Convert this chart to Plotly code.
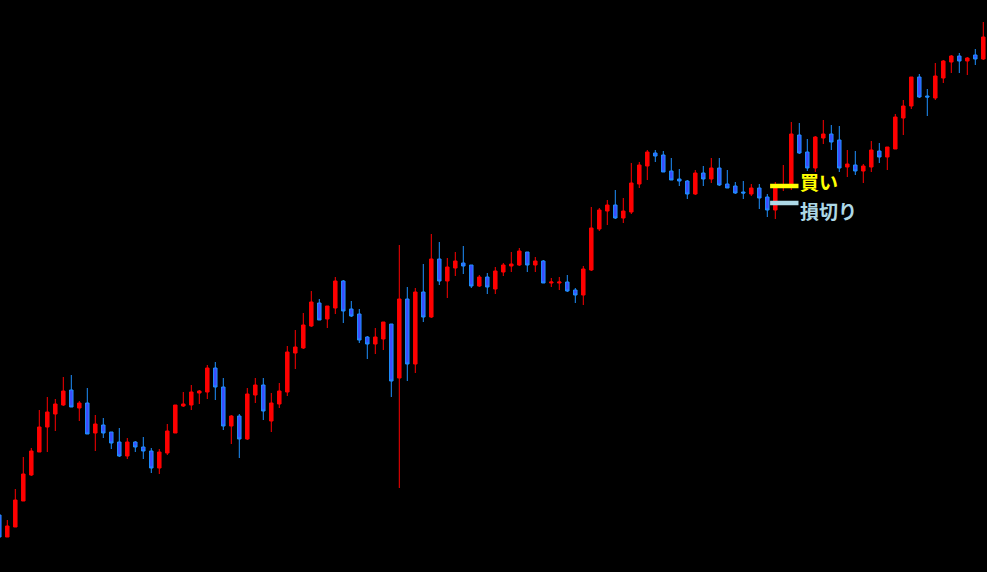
import plotly.graph_objects as go

# OHLC price data (arbitrary price units), one entry per bar
opens = [57, 35, 45, 71, 97, 120, 145, 158, 167, 182, 164, 169, 139, 147, 140, 130, 116, 130, 125, 121,
         104, 119, 139, 166, 167, 179, 180, 204, 185, 146, 156, 133, 177, 187, 151, 168, 180, 219, 224, 246,
         269, 253, 264, 291, 263, 258, 235, 228, 233, 248, 194, 273, 208, 280, 255, 313, 291, 304, 309, 307,
         286, 295, 283, 300, 306, 307, 320, 307, 311, 289, 289, 290, 282, 277, 302, 343, 361, 367, 354, 360,
         388, 406, 419, 417, 401, 393, 391, 378, 399, 393, 404, 388, 386, 380, 378, 384, 375, 362, 385, 387,
         437, 420, 404, 434, 438, 432, 405, 407, 401, 405, 421, 415, 423, 454, 466, 495, 476, 474, 494, 510,
         516, 511, 517, 513]
highs = [57, 52, 83, 115, 124, 162, 175, 173, 195, 197, 171, 184, 157, 154, 140, 144, 134, 131, 135, 124,
         123, 148, 167, 180, 187, 182, 207, 210, 194, 157, 158, 184, 194, 194, 179, 189, 226, 242, 259, 281,
         273, 266, 295, 292, 271, 263, 236, 244, 250, 248, 327, 285, 284, 308, 338, 330, 314, 320, 326, 307,
         297, 299, 305, 309, 320, 324, 320, 315, 312, 294, 295, 297, 284, 306, 365, 364, 372, 382, 374, 409,
         410, 422, 422, 421, 414, 403, 392, 402, 406, 414, 414, 402, 390, 391, 388, 388, 378, 390, 407, 450,
         449, 433, 436, 452, 447, 446, 422, 421, 408, 431, 429, 425, 458, 472, 495, 498, 483, 509, 512, 517,
         519, 515, 523, 550]
lows = [35, 35, 45, 71, 96, 120, 120, 141, 166, 165, 151, 138, 121, 134, 123, 115, 113, 120, 113, 99,
        98, 117, 139, 165, 162, 168, 173, 172, 142, 128, 114, 132, 169, 152, 140, 164, 176, 203, 223, 245,
        252, 244, 258, 249, 255, 229, 213, 218, 222, 175, 84, 191, 199, 250, 254, 287, 274, 296, 298, 284,
        285, 278, 278, 296, 300, 306, 300, 300, 289, 285, 282, 280, 269, 267, 301, 341, 347, 353, 349, 358,
        384, 392, 410, 400, 392, 386, 373, 377, 386, 389, 386, 384, 378, 373, 376, 363, 355, 353, 381, 382,
        418, 401, 400, 428, 422, 400, 395, 397, 389, 400, 409, 402, 423, 437, 463, 474, 456, 472, 489, 499,
        499, 497, 507, 512]
closes = [35, 46, 72, 98, 121, 145, 160, 168, 181, 165, 169, 138, 148, 139, 129, 116, 130, 125, 121, 104,
          120, 141, 167, 168, 180, 181, 204, 185, 146, 156, 133, 178, 187, 161, 169, 181, 220, 225, 247, 270,
          252, 266, 291, 261, 256, 232, 228, 235, 250, 191, 273, 208, 280, 255, 313, 291, 305, 311, 306, 286,
          295, 285, 301, 307, 308, 321, 307, 311, 289, 290, 290, 281, 277, 303, 344, 362, 367, 354, 361, 389,
          407, 420, 416, 400, 392, 391, 378, 399, 393, 404, 387, 384, 379, 379, 384, 374, 362, 387, 387, 438,
          419, 404, 435, 438, 430, 404, 408, 401, 406, 422, 415, 425, 455, 466, 495, 475, 475, 496, 511, 516,
          511, 514, 513, 535]
bar_index = list(range(len(opens)))

# Trade levels marked on the chart
buy_label = "買い"
stop_label = "損切り"
buy_level = 386
stop_level = 369

fig = go.Figure()
fig.add_trace(go.Candlestick(
    x=bar_index, open=opens, high=highs, low=lows, close=closes,
    increasing=dict(fillcolor="#ff0000", line=dict(color="#ff0000", width=1)),
    decreasing=dict(fillcolor="#3c4cff", line=dict(color="#1e90ff", width=1)),
    whiskerwidth=0, showlegend=False, hoverinfo="skip",
))

line_x0, line_x1 = 96.35, 99.9
label_split = (buy_level + stop_level) / 2 - 1
fig.add_shape(type="line", xref="x", yref="y", x0=line_x0, x1=line_x1, y0=buy_level, y1=buy_level,
              line=dict(color="#ffff00", width=4.5))
fig.add_shape(type="line", xref="x", yref="y", x0=line_x0, x1=line_x1, y0=stop_level, y1=stop_level,
              line=dict(color="#add8e6", width=4.5))
fig.add_annotation(x=line_x1, y=label_split, xref="x", yref="y", text="<b>" + buy_label + "</b>",
                   showarrow=False, xanchor="left", yanchor="bottom", borderpad=0, yshift=0,
                   font=dict(family="Noto Sans CJK JP", size=19, color="#ffff00"))
fig.add_annotation(x=line_x1, y=label_split, xref="x", yref="y", text="<b>" + stop_label + "</b>",
                   showarrow=False, xanchor="left", yanchor="top", borderpad=0, yshift=0,
                   font=dict(family="Noto Sans CJK JP", size=19, color="#add8e6"))

fig.update_layout(
    width=987, height=572,
    margin=dict(l=0, r=0, t=0, b=0),
    paper_bgcolor="#000000", plot_bgcolor="#000000",
    boxgap=0.38,
    xaxis=dict(range=[0.0875, 123.4625], visible=False, showgrid=False, zeroline=False,
               rangeslider=dict(visible=False), fixedrange=True),
    yaxis=dict(range=[0, 572], visible=False, showgrid=False, zeroline=False, fixedrange=True),
    showlegend=False,
)

fig.write_html("out.html", config={"displayModeBar": False},
               post_script="document.body.style.margin='0';document.body.style.background='#000';"
                           "document.body.style.overflow='hidden';")
